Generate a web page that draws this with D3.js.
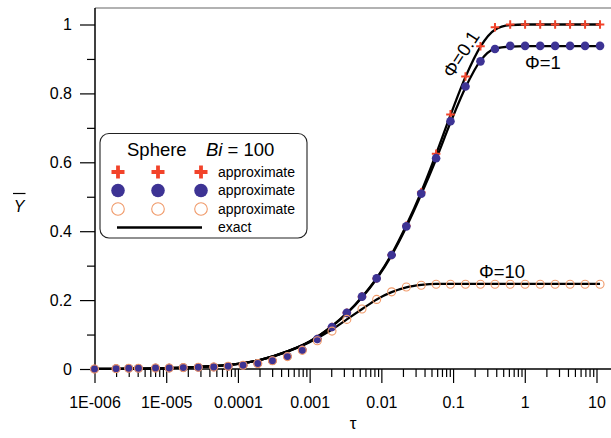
<!DOCTYPE html>
<html><head><meta charset="utf-8">
<script src="https://cdn.jsdelivr.net/npm/d3@7"></script>
<style>
html,body{margin:0;padding:0;background:#fff;}
text{font-family:"Liberation Sans",Arial,sans-serif;}
</style></head>
<body><svg id="c" width="611" height="438"></svg>
<script>
// ---- data ----
const tauPts = [1e-6,2e-6,3e-6,4.1e-6,7.1e-6,1.1e-5,1.73e-5,2.8e-5,4.6e-5,7.3e-5,1.18e-4,1.89e-4,3.03e-4,4.9e-4,7.9e-4,1.28e-3,2.05e-3,3.3e-3,5.37e-3,8.6e-3,0.0139,0.0223,0.036,0.058,0.092,0.149,0.241,0.384,0.626,1.01,1.64,2.65,4.28,6.93,11.2];
const approxPhi01 = [0,0.001,0.002,0.002,0.003,0.003,0.004,0.005,0.006,0.008,0.011,0.016,0.024,0.037,0.056,0.087,0.122,0.163,0.21,0.263,0.331,0.416,0.513,0.625,0.739,0.849,0.937,0.992,1.0,1.0,1.0,1.0,1.0,1.0,1.0];
const approxPhi1  = [0,0.001,0.002,0.002,0.003,0.003,0.004,0.005,0.006,0.008,0.011,0.016,0.024,0.037,0.056,0.087,0.122,0.163,0.21,0.263,0.331,0.414,0.509,0.612,0.719,0.820,0.893,0.929,0.938,0.938,0.938,0.938,0.938,0.938,0.938];
const approxPhi10 = [0,0.001,0.002,0.002,0.003,0.003,0.004,0.005,0.006,0.008,0.011,0.016,0.024,0.036,0.054,0.082,0.110,0.144,0.174,0.202,0.224,0.238,0.243,0.246,0.246,0.246,0.246,0.246,0.246,0.246,0.246,0.246,0.246,0.246,0.246];

const tauExact = [1e-6,3e-6,1e-5,3e-5,1e-4,2e-4,5e-4,1e-3,2e-3,3.3e-3,5.4e-3,8.6e-3,0.0139,0.0223,0.036,0.058,0.092,0.149,0.241,0.384,0.626,1.0,2.0,11.2];
const exactPhi01 = [0.0003,0.0009,0.0024,0.0063,0.015,0.026,0.052,0.080,0.123,0.162,0.210,0.264,0.333,0.417,0.514,0.624,0.737,0.848,0.936,0.985,0.998,1.0,1.0,1.0];
const exactPhi1  = [0.0003,0.0008,0.0024,0.0063,0.015,0.026,0.052,0.080,0.122,0.161,0.208,0.262,0.330,0.412,0.507,0.609,0.715,0.817,0.895,0.930,0.936,0.937,0.937,0.937];
const exactPhi10 = [0.0003,0.0008,0.0024,0.0063,0.015,0.026,0.051,0.078,0.113,0.144,0.174,0.202,0.223,0.237,0.244,0.247,0.247,0.247,0.247,0.247,0.247,0.247,0.247,0.247];

const xMajor = [1e-6,1e-5,1e-4,1e-3,1e-2,1e-1,1,10];
const xMajorLabels = ["1E-006","1E-005","0.0001","0.001","0.01","0.1","1","10"];
const yMajor = [0,0.2,0.4,0.6,0.8,1];
const yMajorLabels = ["0","0.2","0.4","0.6","0.8","1"];
const yMinor = [0.1,0.3,0.5,0.7,0.9];

// ---- drawing ----
const svg = d3.select("#c");
const x = d3.scaleLog().domain([1e-6,10]).range([94.5,596.5]);
const y = d3.scaleLinear().domain([0,1]).range([369,24.5]);
const xMinor = [];
xMajor.slice(0,-1).forEach(d=>{for(let k=2;k<=9;k++) xMinor.push(d*k);});

const font = '"Liberation Sans",Arial,sans-serif';

// frame
svg.append("line").attr("x1",95).attr("x2",611).attr("y1",8).attr("y2",8).attr("stroke","#666").attr("stroke-width",1.2);

// x axis
const gx = svg.append("g").attr("transform","translate(0,369)");
gx.append("g").call(d3.axisBottom(x).tickValues(xMinor).tickSize(8).tickSizeOuter(0).tickFormat(""));
gx.append("g").call(d3.axisBottom(x).tickValues(xMajor).tickSize(14).tickSizeOuter(0).tickPadding(14)
  .tickFormat((d,i)=>xMajorLabels[i]));
gx.selectAll(".domain").remove();
gx.selectAll(".tick line").attr("stroke","#000").attr("stroke-width",1.2);
gx.selectAll(".tick text").attr("font-size",16).attr("font-family",font).attr("fill","#000");
svg.append("line").attr("x1",94.5).attr("x2",611).attr("y1",369).attr("y2",369).attr("stroke","#000").attr("stroke-width",1.5);

// y axis
const gy = svg.append("g").attr("transform","translate(95,0)");
gy.append("g").call(d3.axisLeft(y).tickValues(yMinor).tickSize(8).tickSizeOuter(0).tickFormat(""));
gy.append("g").call(d3.axisLeft(y).tickValues(yMajor).tickSize(15).tickSizeOuter(0).tickPadding(8)
  .tickFormat((d,i)=>yMajorLabels[i]));
gy.selectAll(".domain").remove();
gy.selectAll(".tick line").attr("stroke","#000").attr("stroke-width",1.2);
gy.selectAll(".tick text").attr("font-size",16).attr("font-family",font).attr("fill","#000");
svg.append("line").attr("x1",95).attr("x2",95).attr("y1",8).attr("y2",369.5).attr("stroke","#000").attr("stroke-width",1.5);

// axis titles
svg.append("text").attr("x",19).attr("y",212).attr("text-anchor","middle").attr("font-size",16)
  .attr("font-style","italic").text("Y");
svg.append("line").attr("x1",13).attr("x2",25.5).attr("y1",193.5).attr("y2",193.5).attr("stroke","#000").attr("stroke-width",1.2);
svg.append("text").attr("x",353).attr("y",429).attr("text-anchor","middle").attr("font-size",17).text("τ");

// curves
const line = d3.line().x(d=>x(d[0])).y(d=>y(d[1])).curve(d3.curveMonotoneX);
[exactPhi01, exactPhi1, exactPhi10].forEach(arr=>{
  svg.append("path").attr("d", line(tauExact.map((t,i)=>[t,arr[i]])))
    .attr("fill","none").attr("stroke","#000").attr("stroke-width",2.3);
});

const cRed = "#f2432a", cBlue = "#3d3394", cOrange = "#f09a6a";
const plus = s => `M${-s},0H${s}M0,${-s}V${s}`;

// markers
svg.append("g").selectAll("path").data(tauPts.map((t,i)=>[t,approxPhi01[i]])).join("path")
  .attr("d",plus(4.3)).attr("transform",d=>`translate(${x(d[0])},${y(d[1])})`)
  .attr("stroke",cRed).attr("stroke-width",2).attr("fill","none");
svg.append("g").selectAll("circle").data(tauPts.map((t,i)=>[t,approxPhi1[i]])).join("circle")
  .attr("cx",d=>x(d[0])).attr("cy",d=>y(d[1])).attr("r",4.3).attr("fill",cBlue);
svg.append("g").selectAll("circle").data(tauPts.map((t,i)=>[t,approxPhi10[i]])).join("circle")
  .attr("cx",d=>x(d[0])).attr("cy",d=>y(d[1])).attr("r",4).attr("fill","none")
  .attr("stroke",cOrange).attr("stroke-width",1.1);

// curve labels
svg.append("text").attr("transform","translate(461,54) rotate(-57)").attr("text-anchor","middle")
  .attr("dy","0.35em").attr("font-size",18.5).text("Φ=0.1");
svg.append("text").attr("x",525).attr("y",68.5).attr("font-size",18.5).text("Φ=1");
svg.append("text").attr("x",479).attr("y",277.5).attr("font-size",18.5).text("Φ=10");

// legend
const lg = svg.append("g");
lg.append("rect").attr("x",100).attr("y",133.5).attr("width",207).attr("height",104.5).attr("rx",9)
  .attr("fill","#fff").attr("stroke","#222").attr("stroke-width",1.1);
lg.append("text").attr("x",127).attr("y",156).attr("font-size",18.5).text("Sphere");
const tt = lg.append("text").attr("x",206).attr("y",156).attr("font-size",18.5);
tt.append("tspan").attr("font-style","italic").text("Bi");
tt.append("tspan").text(" = 100");
const mx = [118,158,201];
mx.forEach(cx=>{
  lg.append("path").attr("d",plus(6.5)).attr("transform",`translate(${cx},172)`)
    .attr("stroke",cRed).attr("stroke-width",3.8).attr("fill","none");
  lg.append("circle").attr("cx",cx).attr("cy",190.5).attr("r",6.8).attr("fill",cBlue);
  lg.append("circle").attr("cx",cx).attr("cy",209).attr("r",6.3).attr("fill","none")
    .attr("stroke",cOrange).attr("stroke-width",1.1);
});
lg.append("line").attr("x1",117).attr("x2",202).attr("y1",227.5).attr("y2",227.5).attr("stroke","#000").attr("stroke-width",2.5);
["approximate","approximate","approximate","exact"].forEach((t,i)=>{
  lg.append("text").attr("x",218).attr("y",[176.5,195,213.5,232][i]).attr("font-size",14).text(t);
});
</script></body></html>
